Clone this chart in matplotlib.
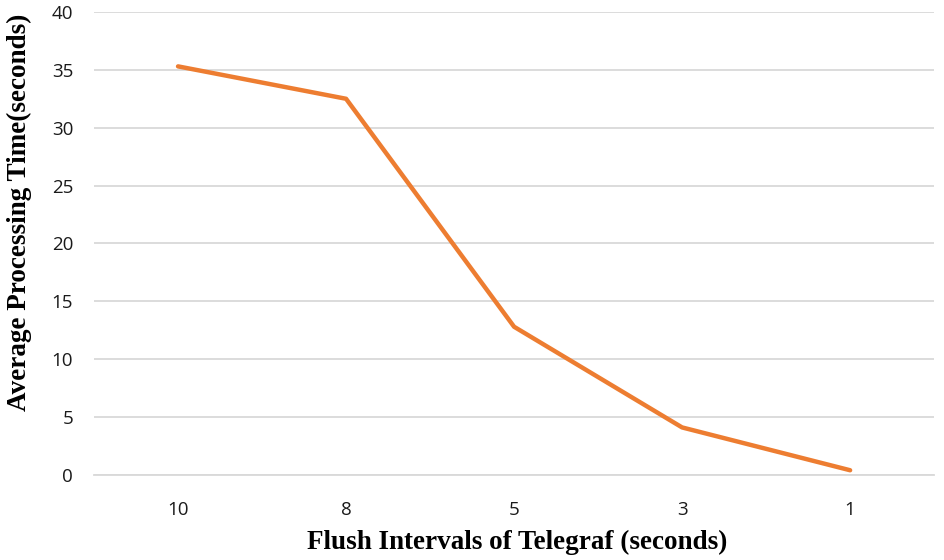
import matplotlib
matplotlib.use("Agg")
import matplotlib.pyplot as plt

categories = ["10", "8", "5", "3", "1"]
values = [35.3, 32.5, 12.8, 4.1, 0.4]
y_ticks = [0, 5, 10, 15, 20, 25, 30, 35, 40]

fig = plt.figure(figsize=(9.45, 5.6), dpi=100)
ax = fig.add_axes([0.0995, 0.152, 0.889, 0.8266])

x = list(range(len(categories)))
ax.plot(x, values, color="#ED7D31", linewidth=3.2, solid_capstyle="round", zorder=3)

ax.set_xlim(-0.5, len(categories) - 0.5)
ax.set_ylim(0, 40)
ax.set_yticks(y_ticks)
ax.set_xticks(x)
ax.set_xticklabels(categories)
ax.yaxis.grid(True, color="#D9D9D9", linewidth=1.3)
ax.set_axisbelow(True)
for s in ["top", "right", "left"]:
    ax.spines[s].set_visible(False)
ax.spines["bottom"].set_color("#D9D9D9")
ax.spines["bottom"].set_linewidth(1.3)
ax.tick_params(axis="both", length=0, labelsize=13.5, colors="#1a1a1a")
ax.tick_params(axis="y", pad=15)
ax.tick_params(axis="x", pad=19)
for lab in ax.get_xticklabels() + ax.get_yticklabels():
    lab.set_fontfamily("Open Sans")

fig.text(0.547, 0.031, "Flush Intervals of Telegraf (seconds)", fontfamily="Liberation Serif",
         fontweight="bold", fontsize=19.5, ha="center", va="center")
fig.text(0.021, 0.62, "Average Processing Time(seconds)", fontfamily="Liberation Serif",
         fontweight="bold", fontsize=19.5, ha="center", va="center", rotation=90)

fig.savefig("out.png", dpi=100)
